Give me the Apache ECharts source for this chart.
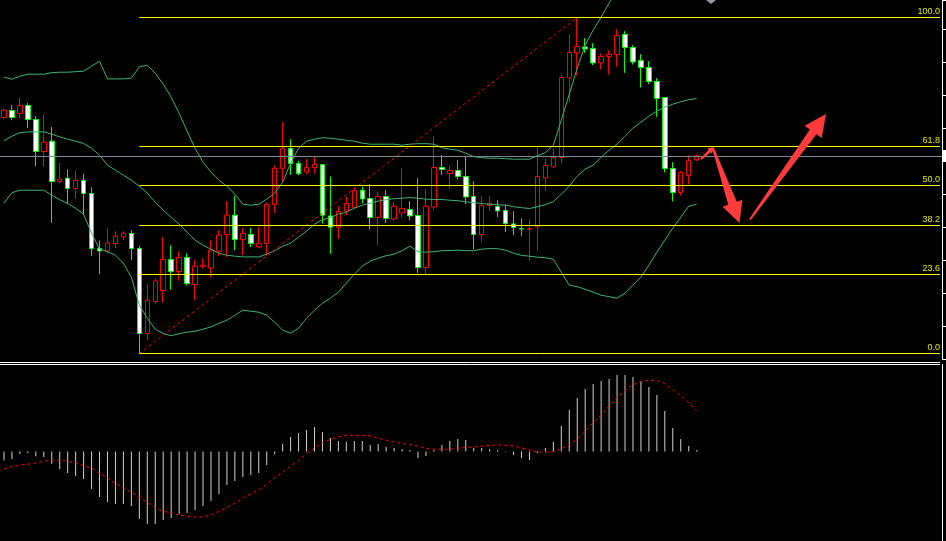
<!DOCTYPE html>
<html><head><meta charset="utf-8">
<script src="https://cdn.jsdelivr.net/npm/echarts@6/dist/echarts.min.js"></script>
<style>html,body{margin:0;padding:0;background:#000;}#c{width:946px;height:541px;}</style>
</head><body><div id="c"></div>
<script>
// ---- price data (one entry per bar) ----
const opens = [1232.0,1239.0,1236.0,1244.0,1230.0,1198.0,1208.3,1168.0,1171.3,1161.0,1169.0,1156.0,1101.0,1098.6,1106.0,1112.6,1116.0,1101.0,1016.0,1048.0,1059.0,1090.0,1078.0,1092.0,1065.0,1083.3,1081.6,1098.3,1115.0,1134.3,1110.0,1115.0,1102.6,1106.0,1145.0,1181.0,1201.0,1186.0,1177.6,1182.0,1185.0,1133.6,1122.3,1138.3,1142.0,1159.3,1151.0,1132.0,1153.0,1130.6,1136.6,1140.0,1134.0,1082.0,1142.6,1182.0,1176.0,1179.0,1173.0,1153.0,1115.0,1144.0,1143.0,1139.0,1125.6,1120.8,1120.3,1122.6,1171.6,1182.6,1192.0,1271.6,1296.6,1302.6,1301.0,1286.6,1293.0,1295.0,1315.0,1302.0,1289.0,1282.0,1268.0,1252.0,1181.0,1157.0,1174.0,1189.6];
const closes = [1239.3,1232.0,1244.0,1230.0,1198.0,1207.3,1168.0,1170.3,1161.0,1169.0,1156.0,1101.0,1098.6,1106.3,1113.3,1116.3,1101.0,1016.0,1049.3,1068.6,1090.0,1078.0,1092.0,1066.0,1083.3,1084.3,1099.3,1114.3,1134.3,1110.0,1116.0,1106.0,1106.0,1145.0,1181.0,1201.0,1186.0,1176.0,1182.0,1185.0,1134.3,1122.3,1138.0,1146.0,1159.0,1150.6,1132.0,1153.0,1131.0,1143.3,1141.0,1133.6,1082.0,1143.3,1182.0,1180.0,1179.0,1173.0,1152.6,1115.0,1144.0,1146.0,1138.6,1126.0,1122.0,1120.4,1120.7,1173.0,1184.0,1192.3,1272.0,1297.0,1303.0,1300.6,1286.6,1293.0,1295.0,1314.0,1302.0,1287.6,1282.0,1268.0,1251.0,1181.0,1157.0,1177.0,1189.0,1193.6];
const lows = [1230.3,1229.3,1232.0,1221.6,1183.3,1182.6,1126.6,1166.0,1145.6,1150.6,1134.6,1093.6,1075.6,1096.0,1101.6,1109.3,1089.3,996.0,1009.3,1045.0,1047.0,1060.0,1069.0,1064.0,1049.3,1081.0,1072.0,1093.6,1092.6,1099.3,1094.3,1102.6,1101.6,1094.0,1136.6,1168.3,1174.6,1174.3,1175.3,1176.0,1126.0,1095.6,1110.6,1134.3,1141.0,1146.0,1120.0,1104.6,1126.6,1128.6,1132.0,1129.3,1076.6,1074.3,1139.3,1174.6,1160.6,1170.0,1145.3,1100.3,1107.6,1138.6,1132.6,1117.6,1114.3,1113.3,1088.6,1098.6,1158.3,1181.6,1186.0,1246.6,1274.0,1296.6,1284.3,1280.0,1275.0,1282.6,1276.6,1285.0,1262.0,1265.3,1232.6,1177.0,1148.0,1154.0,1165.0,1188.6];
const highs = [1241.3,1244.3,1252.0,1246.6,1233.3,1235.3,1222.6,1186.6,1180.3,1179.3,1176.0,1162.3,1109.0,1121.3,1118.3,1118.3,1119.3,1104.0,1065.3,1071.0,1112.3,1104.0,1098.0,1096.0,1089.3,1091.0,1109.3,1119.3,1148.3,1153.6,1121.6,1121.6,1122.3,1147.0,1184.3,1227.3,1210.3,1188.3,1190.3,1193.3,1185.0,1173.0,1143.3,1152.6,1162.0,1162.6,1165.3,1158.3,1159.3,1147.6,1181.3,1148.3,1171.3,1160.3,1213.3,1194.3,1184.3,1189.3,1192.6,1168.3,1153.3,1153.3,1149.3,1145.0,1138.3,1131.0,1130.0,1203.3,1190.8,1201.3,1274.3,1315.3,1332.0,1311.3,1306.3,1296.0,1299.0,1320.3,1318.3,1304.3,1295.3,1288.3,1271.3,1252.0,1187.3,1178.6,1194.0,1195.0];

// ---- Bollinger bands ----
const bbUpper = [1272.3,1270.3,1273.3,1275.3,1275.3,1275.3,1276.8,1277.3,1277.3,1277.8,1278.3,1283.3,1288.3,1270.6,1270.6,1270.6,1271.3,1282.6,1284.3,1276.3,1265.3,1252.3,1236.3,1218.3,1201.3,1187.3,1177.3,1169.3,1163.3,1155.3,1145.3,1144.3,1145.3,1150.3,1156.3,1167.3,1186.3,1201.3,1208.3,1210.3,1211.8,1211.3,1210.3,1209.3,1208.3,1206.3,1205.3,1205.3,1205.3,1205.3,1204.3,1205.3,1205.8,1205.8,1205.3,1201.8,1200.3,1199.3,1196.3,1192.8,1191.8,1191.3,1191.3,1190.8,1190.3,1190.3,1190.3,1193.8,1196.8,1204.3,1229.3,1255.3,1281.3,1304.3,1319.3,1332.3,1346.3,1359.3,1372.3,1378.3,1382.3,1382.3,1379.3,1373.3,1367.3,1363.3,1356.3,1356.6];
const bbMiddle = [1208.8,1213.3,1216.8,1217.6,1217.6,1217.6,1215.3,1212.6,1210.3,1208.3,1206.0,1201.3,1194.3,1184.3,1179.3,1174.3,1169.3,1163.3,1156.3,1147.3,1139.3,1132.3,1125.3,1117.3,1109.3,1104.3,1100.3,1096.3,1094.3,1093.3,1092.6,1092.6,1092.6,1095.3,1098.8,1103.3,1106.3,1112.3,1118.3,1125.3,1129.8,1131.8,1135.3,1137.3,1141.3,1144.3,1146.3,1148.3,1149.8,1150.8,1151.3,1152.0,1151.3,1150.3,1150.0,1150.0,1149.3,1148.8,1147.6,1146.8,1146.0,1145.3,1144.8,1144.3,1142.8,1141.8,1141.0,1142.8,1144.8,1147.8,1155.3,1163.3,1173.3,1180.3,1184.3,1192.3,1199.3,1205.3,1213.3,1221.3,1227.3,1233.3,1238.3,1242.3,1245.3,1247.8,1249.8,1251.0];
const bbLower = [1146.3,1156.8,1159.3,1159.3,1159.3,1159.3,1154.3,1149.8,1146.0,1141.3,1135.3,1116.3,1100.3,1097.8,1094.3,1086.3,1072.3,1044.3,1031.3,1020.3,1016.0,1013.8,1015.8,1017.3,1018.3,1020.3,1022.6,1026.3,1029.3,1034.3,1039.3,1038.3,1037.3,1034.3,1027.3,1019.3,1016.3,1021.3,1031.3,1039.3,1046.3,1051.3,1057.3,1066.3,1075.3,1083.3,1088.3,1091.3,1093.8,1095.3,1098.8,1103.3,1097.8,1097.3,1097.8,1098.8,1099.0,1099.3,1098.8,1098.8,1100.3,1101.0,1100.8,1099.3,1096.3,1094.1,1093.3,1092.3,1091.8,1090.3,1077.3,1064.3,1062.8,1060.3,1057.3,1054.3,1052.8,1051.3,1056.3,1064.3,1072.3,1084.3,1097.3,1109.3,1121.3,1132.3,1143.3,1145.3];

// ---- MACD ----
const macdHist = [-0.9,-0.75,-0.25,-0.15,-0.48,-0.55,-1.22,-1.75,-2.15,-2.45,-2.75,-3.75,-4.55,-5.05,-5.25,-5.25,-5.45,-6.75,-7.25,-7.25,-6.85,-6.65,-6.25,-6.15,-5.85,-5.45,-4.95,-4.25,-3.35,-2.95,-2.55,-2.35,-2.15,-1.35,-0.25,0.75,1.45,1.85,2.15,2.45,1.95,1.35,1.05,0.95,1.05,1.05,0.65,0.75,0.45,0.35,0.25,0.15,-0.65,-0.45,0.15,0.65,1.05,1.25,1.15,0.35,0.35,0.25,0.15,0.05,-0.35,-0.65,-0.85,-0.15,0.35,0.95,2.55,4.15,5.35,6.25,6.75,7.05,7.25,7.65,7.65,7.45,7.05,6.45,5.65,4.05,2.35,1.25,0.55,0.15];
const macdSignal = [-1.75,-1.50,-1.35,-1.27,-1.15,-0.97,-0.88,-0.88,-0.98,-1.12,-1.42,-1.70,-2.15,-2.65,-3.20,-3.65,-4.10,-4.55,-5.15,-5.60,-6.00,-6.15,-6.35,-6.48,-6.55,-6.53,-6.35,-6.00,-5.60,-5.15,-4.65,-4.25,-3.85,-3.30,-2.60,-2.10,-1.45,-0.85,-0.22,0.35,0.87,1.20,1.47,1.60,1.62,1.62,1.55,1.32,1.13,0.95,0.81,0.68,0.54,0.32,0.24,0.22,0.23,0.35,0.41,0.46,0.54,0.61,0.67,0.62,0.55,0.36,0.15,-0.05,-0.08,-0.02,0.28,0.67,1.25,2.00,2.90,3.65,4.55,5.40,6.10,6.68,7.02,7.12,7.10,6.80,6.17,5.60,4.90,4.05];

// ---- Fibonacci retracement ----
const fibLowIndex = 17, fibHighIndex = 72;
const fibLow = 996.0, fibHigh = 1332.0;
const fibLevels = [0, 23.6, 38.2, 50, 61.8, 100];
const fibLabels = ['0.0', '23.6', '38.2', '50.0', '61.8', '100.0'];

const totalSlots = 118;
const categories = [];
for (let i = 0; i < totalSlots; i++) categories.push(String(i + 1));

const candleData = opens.map((o, i) => [o, closes[i], lows[i], highs[i]]);
const lastClose = closes[closes.length - 1];

const fibMarks = fibLevels.map((lv, j) => {
  const v = fibLow + (fibHigh - fibLow) * lv / 100;
  return [
    { name: fibLabels[j], coord: [fibLowIndex, v] },
    { coord: [fibLowIndex, v], x: 940 }
  ];
});

function arrowPoly(tail, tip, tailHW, shaftHW, headLen, headHW) {
  const dx = tip[0] - tail[0], dy = tip[1] - tail[1];
  const L = Math.hypot(dx, dy);
  const ux = dx / L, uy = dy / L, nx = -uy, ny = ux;
  const bx = tip[0] - ux * headLen, by = tip[1] - uy * headLen;
  return [
    [tail[0] + nx * tailHW, tail[1] + ny * tailHW],
    [bx + nx * shaftHW, by + ny * shaftHW],
    [bx + nx * headHW, by + ny * headHW],
    tip,
    [bx - nx * headHW, by - ny * headHW],
    [bx - nx * shaftHW, by - ny * shaftHW],
    [tail[0] - nx * tailHW, tail[1] - ny * tailHW]
  ];
}
const arrowColor = '#ff3b3b';
const bandColor = '#3cb371';

const chart = echarts.init(document.getElementById('c'), null, { renderer: 'canvas' });
chart.setOption({
  animation: false,
  backgroundColor: '#000',
  grid: [
    { left: -4.5, width: 944, top: 0.2, height: 359.3 },
    { left: -4.5, width: 944, top: 364.5, height: 176.5 }
  ],
  xAxis: [
    { type: 'category', gridIndex: 0, data: categories, boundaryGap: true, position: 'bottom', offset: 3,
      axisLine: { show: true, onZero: false, lineStyle: { color: '#ffffff', width: 1 } }, axisTick: { show: false }, axisLabel: { show: false }, splitLine: { show: false } },
    { type: 'category', gridIndex: 1, data: categories, boundaryGap: true, position: 'top',
      axisLine: { show: true, onZero: false, lineStyle: { color: '#ffffff', width: 1 } }, axisTick: { show: false }, axisLabel: { show: false }, splitLine: { show: false } }
  ],
  yAxis: [
    { type: 'value', gridIndex: 0, position: 'right', offset: 2.5, min: 990, max: 1349.3, interval: 33,
      axisLine: { show: true, lineStyle: { color: '#ffffff' } },
      axisTick: { show: true, length: 4, lineStyle: { color: '#ffffff' } },
      axisLabel: { show: false }, splitLine: { show: false } },
    { type: 'value', gridIndex: 1, position: 'right', offset: 2.5, min: -8.95, max: 8.70,
      axisLine: { show: true, lineStyle: { color: '#ffffff' } },
      axisTick: { show: false }, axisLabel: { show: false }, splitLine: { show: false } }
  ],
  series: [
    {
      name: 'Price', type: 'candlestick', xAxisIndex: 0, yAxisIndex: 0, data: candleData, barWidth: 5,
      itemStyle: { color: '#000000', color0: '#ffffff', borderColor: '#ff0000', borderColor0: '#00ff00', borderWidth: 1 }
    },
    { name: 'BB Upper', type: 'line', xAxisIndex: 0, yAxisIndex: 0, data: bbUpper, showSymbol: false, symbol: 'none',
      lineStyle: { color: bandColor, width: 1 }, itemStyle: { color: bandColor }, z: 3,
      markLine: {
        silent: true, symbol: ['none', 'none'], animation: false,
        lineStyle: { color: '#ff0000', width: 1, type: [3, 3] }, label: { show: false },
        data: [[{ coord: [fibLowIndex, fibLow] }, { coord: [fibHighIndex, fibHigh] }]]
      } },
    { name: 'BB Middle', type: 'line', xAxisIndex: 0, yAxisIndex: 0, data: bbMiddle, showSymbol: false, symbol: 'none',
      lineStyle: { color: bandColor, width: 1 }, itemStyle: { color: bandColor }, z: 3,
      markLine: {
        silent: true, symbol: ['none', 'none'], animation: false,
        lineStyle: { color: '#778899', width: 1, type: 'solid' }, label: { show: false },
        data: [[{ coord: [0, lastClose], x: 0 }, { coord: [0, lastClose], x: 942 }]]
      } },
    { name: 'BB Lower', type: 'line', xAxisIndex: 0, yAxisIndex: 0, data: bbLower, showSymbol: false, symbol: 'none',
      lineStyle: { color: bandColor, width: 1 }, itemStyle: { color: bandColor }, z: 3,
      markLine: {
        silent: true, symbol: ['none', 'none'], animation: false,
        lineStyle: { color: '#ffff00', width: 1, type: 'solid' },
        label: { show: true, position: 'insideEndTop', distance: [0, 1], color: '#e6e600', fontSize: 9,
                 fontFamily: 'Liberation Sans, Arial, sans-serif', formatter: p => p.name },
        data: fibMarks
      } },
    { name: 'MACD', type: 'bar', xAxisIndex: 1, yAxisIndex: 1, data: macdHist, barWidth: 1,
      itemStyle: { color: '#d0d0d0' } },
    { name: 'Signal', type: 'line', xAxisIndex: 1, yAxisIndex: 1, data: macdSignal, showSymbol: false, symbol: 'none',
      lineStyle: { color: '#ff0000', width: 1, type: [3, 3] }, itemStyle: { color: '#ff0000' }, z: 3 }
  ],
  graphic: [
    { type: 'polygon', shape: { points: arrowPoly([701, 159], [714, 147], 1, 1.5, 6, 3.5) }, style: { fill: arrowColor }, z: 100 },
    { type: 'polygon', shape: { points: arrowPoly([713, 148], [739.5, 223], 1, 4.5, 21, 10.5) }, style: { fill: arrowColor }, z: 100 },
    { type: 'polygon', shape: { points: arrowPoly([750, 219.5], [826, 114], 1, 4, 22, 10.5) }, style: { fill: arrowColor }, z: 100 },
    { type: 'polygon', shape: { points: [[706, 0], [716, 0], [711, 4]] }, style: { fill: '#8c9aa8' }, z: 100 },
    { type: 'rect', shape: { x: 943, y: 150, width: 3, height: 11 }, style: { fill: '#ffffff' }, z: 100 }
  ]
});
</script>
</body></html>
